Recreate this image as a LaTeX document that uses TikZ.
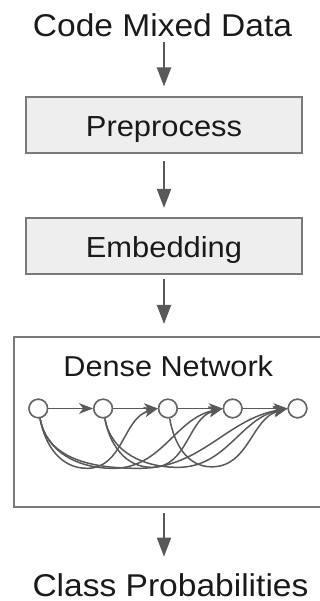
\documentclass[tikz,border=0pt]{standalone}
\usepackage{fontspec}
\setmainfont{Liberation Sans}[FakeStretch=1.065]
\usetikzlibrary{arrows.meta}
\definecolor{textblack}{HTML}{1A1A1A}
\definecolor{linegray}{HTML}{595959}
\definecolor{circgray}{HTML}{666666}
\definecolor{boxborder}{HTML}{7A7A7A}
\definecolor{boxfill}{HTML}{EEEEEE}
\begin{document}
\begin{tikzpicture}[x=1pt,y=1pt,
  txt/.style={inner sep=0pt, outer sep=0pt, text=textblack, anchor=base},
  bigtxt/.style={txt, font=\fontsize{31.5}{36}\selectfont},
  midtxt/.style={txt, font=\fontsize{28.8}{34}\selectfont},
  stepbox/.style={draw=boxborder, line width=2pt, fill=boxfill, minimum width=276pt,
    minimum height=56pt, inner sep=0pt, text height=23.5pt, text depth=0.5pt,
    text=textblack, font=\fontsize{29}{34}\selectfont},
  densebox/.style={draw=boxborder, line width=2pt, minimum width=317pt,
    minimum height=170pt, inner sep=0pt},
  layer/.style={circle, draw=circgray, fill=white, line width=1.5pt,
    minimum size=18.5pt, inner sep=0pt},
  flow/.style={draw=linegray, line width=2pt, -{Triangle[length=19pt,width=14pt]}},
  skip/.style={draw=linegray, line width=1.5pt, -{Stealth[length=14pt,width=10.5pt,inset=4pt]}},
]
\useasboundingbox (0,0) rectangle (320,601);
\clip (0,0) rectangle (320,601);

% text and boxes
\node[bigtxt] (title) at (162.5,564.3) {Code Mixed Data};
\node[stepbox] (pre) at (164,475.5) {Preprocess};
\node[stepbox] (emb) at (164,355) {Embedding};
\node[densebox] (dense) at (172.5,179) {};
\node[midtxt] (dntitle) at (168.3,224.3) {Dense Network};
\node[bigtxt] (cls) at (170.5,4.5) {Class Probabilities};

% main flow arrows
\draw[flow, shorten <=5pt, shorten >=10pt] (pre.north |- title.south) -- (pre.north);
\draw[flow, shorten <=7pt, shorten >=9pt] (pre.south) -- (emb.north);
\draw[flow, shorten <=4pt, shorten >=12pt] (emb.south) -- (emb.south |- dense.north);
\draw[flow, shorten <=5pt, shorten >=17pt] (dense.south -| emb.south) -- (cls.north -| emb.south);

% dense layers
\foreach \i/\x in {1/38.3,2/103.1,3/167.9,4/232.7,5/297.5}
  \node[layer] (c\i) at (\x,192.5) {};

% skip curves (drawn first, beneath straight arrows)
\draw[skip] (c1.-80) to[out=-80,in=180] ++(47,-50) to[out=0,in=195] (c3.west);
\draw[skip] (c1.-80) to[out=-80,in=180] ++(73,-50) to[out=0,in=192] (c4.west);
\draw[skip] (c1.-80) to[out=-80,in=180] ++(99,-50) to[out=0,in=190] (c5.west);
\draw[skip] (c2.-80) to[out=-80,in=180] ++(47,-49) to[out=0,in=195] (c4.west);
\draw[skip] (c2.-80) to[out=-80,in=180] ++(73,-49) to[out=0,in=192] (c5.west);
\draw[skip] (c3.-80) to[out=-80,in=180] ++(42,-48.5) to[out=0,in=195] (c5.west);

% straight arrows between consecutive layers
\draw[skip] (c1) -- (c2);
\draw[skip] (c2) -- (c3);
\draw[skip] (c3) -- (c4);
\draw[skip] (c4) -- (c5);

% redraw circles on top
\foreach \i in {1,...,5}
  \node[layer] at (c\i) {};
\end{tikzpicture}
\end{document}
